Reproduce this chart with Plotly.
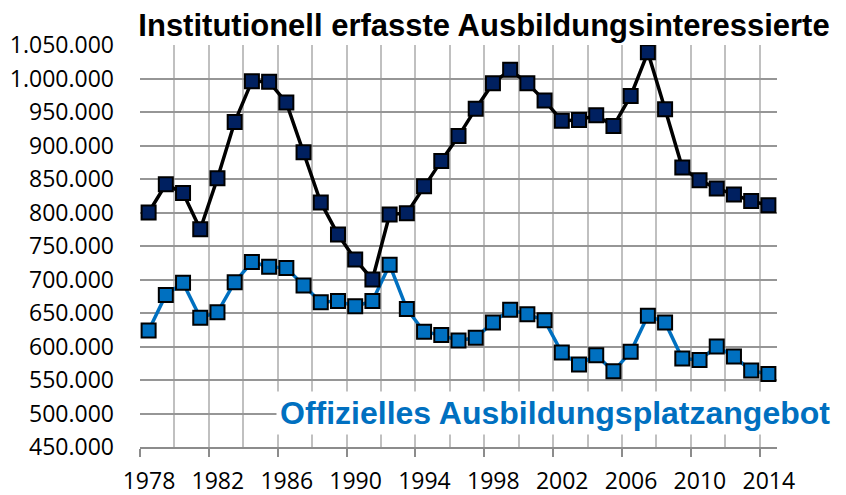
import plotly.graph_objects as go

# Jahre 1978-2014
YEARS = list(range(1978, 2015))

# Institutionell erfasste Ausbildungsinteressierte
INTERESSIERTE = [
    800000, 842000, 829000, 775000, 851000, 935000, 996000, 995000, 964000, 890000,
    815000, 767000, 730000, 700000, 797000, 799000, 839000, 877000, 914000, 955000,
    993000, 1013000, 993000, 967000, 937000, 938000, 945000, 929000, 974000, 1039000,
    954000, 867000, 848000, 836000, 827000, 817000, 811000,
]

# Offizielles Ausbildungsplatzangebot
ANGEBOT = [
    624000, 677000, 695000, 643000, 651000, 696000, 726000, 719000, 717000, 691000,
    666000, 668000, 660000, 668000, 722000, 656000, 622000, 617000, 609000, 613000,
    636000, 655000, 648000, 639000, 591000, 573000, 587000, 563000, 592000, 646000,
    636000, 582000, 580000, 600000, 585000, 564000, 559000,
]

TICK_YEARS = YEARS[::4]
TICK_LABELS = [str(y) for y in TICK_YEARS]

TITLE = "Institutionell erfasste Ausbildungsinteressierte"
LABEL_ANGEBOT = "Offizielles Ausbildungsplatzangebot"

LABEL_FONT = "Open Sans, sans-serif"
BOLD_FONT = "Liberation Sans, Arial, sans-serif"

# the page body adds an 8px margin, so the figure is 8px smaller than the window
W, H = 838, 487

fig = go.Figure()

fig.add_trace(go.Scatter(
    x=YEARS, y=ANGEBOT,
    mode="lines+markers",
    line=dict(color="#0070C0", width=3.5),
    marker=dict(symbol="square", size=14, color="#0070C0",
                line=dict(color="black", width=2)),
    name=LABEL_ANGEBOT,
))

fig.add_trace(go.Scatter(
    x=YEARS, y=INTERESSIERTE,
    mode="lines+markers",
    line=dict(color="black", width=3.5),
    marker=dict(symbol="square", size=14, color="#002060",
                line=dict(color="black", width=2)),
    name="Ausbildungsinteressierte",
))

fig.add_annotation(
    text=LABEL_ANGEBOT,
    xref="paper", yref="paper",
    x=0.6515, y=0.085, xanchor="center", yanchor="middle",
    showarrow=False,
    bgcolor="white", borderpad=3,
    font=dict(family=BOLD_FONT, size=32, color="#0070C0", weight="bold"),
)

fig.update_layout(
    width=W, height=H,
    margin=dict(l=132, r=69, t=37, b=48),
    paper_bgcolor="white", plot_bgcolor="white",
    showlegend=False,
    separators=",.",
    title=dict(
        text=TITLE,
        xref="container", yref="container",
        x=476 / W, xanchor="center",
        y=1 - 17.5 / H, yanchor="middle",
        font=dict(family=BOLD_FONT, size=31, color="black", weight="bold"),
    ),
)

fig.update_xaxes(
    range=[YEARS[0] - 0.5, YEARS[-1] + 0.5],
    tickmode="array",
    tickvals=[y - 0.5 for y in TICK_YEARS],
    ticktext=TICK_LABELS,
    ticklabelshift=9,
    ticklabelstandoff=4,
    ticks="outside", ticklen=8, tickwidth=2, tickcolor="#8c8c8c",
    showgrid=True, gridcolor="#c0c0c0", gridwidth=2,
    minor=dict(tick0=YEARS[0] - 0.5, dtick=2, showgrid=True,
               gridcolor="#c0c0c0", gridwidth=2, ticks=""),
    showline=True, linecolor="#8c8c8c", linewidth=2,
    zeroline=False, automargin=False,
    tickfont=dict(family=LABEL_FONT, size=23, color="black"),
)

fig.update_yaxes(
    range=[450000, 1050000],
    dtick=50000, tick0=450000,
    tickformat=",d",
    showgrid=True, gridcolor="#969696", gridwidth=2,
    zeroline=False, showline=False, automargin=False,
    ticks="", ticklabelstandoff=25,
    tickfont=dict(family=LABEL_FONT, size=23, color="black"),
)

fig.write_html("out.html")
